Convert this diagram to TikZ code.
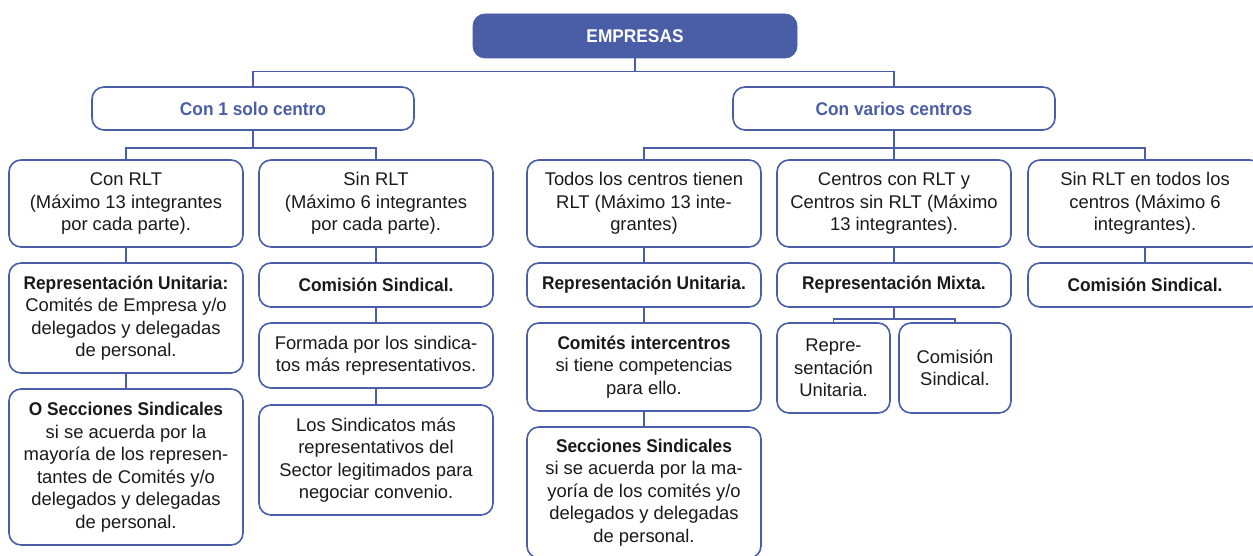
\documentclass[tikz,border=0pt]{standalone}
\usepackage{fontspec}
\setsansfont[BoldFeatures={FakeStretch=0.94}]{Liberation Sans}
\usepackage{tikz}
\usetikzlibrary{positioning}
\definecolor{azul}{RGB}{74,94,168}
\definecolor{texto}{RGB}{26,26,26}

\begin{document}
\begin{tikzpicture}
		[x=0.5pt, y=-0.5pt, inner sep=0pt,
		font=\sffamily\fontsize{9.2}{11.25}\selectfont,
		company/.style	= {rectangle,rounded corners=6pt,fill=azul,draw=azul,text=white,font=\sffamily\bfseries\fontsize{9.2}{11.25}\selectfont,minimum width=162pt,minimum height=22pt},
		branch/.style	= {rectangle,rounded corners=6pt,draw=azul,line width=0.8pt,text=azul,font=\sffamily\bfseries\fontsize{9.2}{11.25}\selectfont,minimum width=161pt,minimum height=21.5pt},
		info/.style		= {rectangle,rounded corners=6pt,draw=azul,line width=0.8pt,fill=white,text=texto,align=center,minimum width=117pt},
		paths/.style	= {draw=azul, line width=0.8pt}]
		
		\useasboundingbox (0,0) rectangle (1253,556);
		
		\node at (635, 36)		[company]	(emp)		{EMPRESAS};
		
		\node at (253, 108.5)	[branch]	(uno)		{Con 1 solo centro};
		\node at (894, 108.5)	[branch]	(varios)	{Con varios centros};
		
		\node at (126, 203.5)	[info, minimum height=43.5pt]	(conrlt)	{Con RLT\\(Máximo 13 integrantes\\por cada parte).};
		\node at (376, 203.5)	[info, minimum height=43.5pt]	(sinrlt)	{Sin RLT\\(Máximo 6 integrantes\\por cada parte).};
		\node at (644, 203.5)	[info, minimum height=43.5pt]	(todos)		{Todos los centros tienen\\RLT (Máximo 13 inte-\\grantes)};
		\node at (894, 203.5)	[info, minimum height=43.5pt]	(mixtos)	{Centros con RLT y\\Centros sin RLT (Máximo\\13 integrantes).};
		\node at (1145, 203.5)	[info, minimum height=43.5pt]	(sinall)	{Sin RLT en todos los\\centros (Máximo 6\\integrantes).};
		
		\node at (126, 318)		[info, minimum height=55pt]		(runit1)	{\textbf{Representación Unitaria:}\\Comités de Empresa y/o\\delegados y delegadas\\de personal.};
		\node at (126, 467)		[info, minimum height=78pt]		(secc1)		{\textbf{O Secciones Sindicales}\\si se acuerda por la\\mayoría de los represen-\\tantes de Comités y/o\\delegados y delegadas\\de personal.};
		
		\node at (376, 285)		[info, minimum height=22pt]		(comis1)	{\textbf{Comisión Sindical.}};
		\node at (376, 355.5)	[info, minimum height=32.5pt]	(formada)	{Formada por los sindica-\\tos más representativos.};
		\node at (376, 460)		[info, minimum height=55pt]		(sindic)	{Los Sindicatos más\\representativos del\\Sector legitimados para\\negociar convenio.};
		
		\node at (644, 285)		[info, minimum height=22pt]		(runit2)	{\textbf{Representación Unitaria.}};
		\node at (644, 367)		[info, minimum height=44pt]		(interc)	{\textbf{Comités intercentros}\\si tiene competencias\\para ello.};
		\node at (644, 492.5)	[info, minimum height=65.5pt]	(secc2)		{\textbf{Secciones Sindicales}\\si se acuerda por la ma-\\yoría de los comités y/o\\delegados y delegadas\\de personal.};
		
		\node at (894, 285)		[info, minimum height=22pt]		(mixta)		{\textbf{Representación Mixta.}};
		\node at (833.5, 368)	[info, minimum width=56.5pt, minimum height=45pt]	(runit3)	{Repre-\\sentación\\Unitaria.};
		\node at (955, 368)		[info, minimum width=56pt, minimum height=45pt]		(comis3)	{Comisión\\Sindical.};
		
		\node at (1145, 285)	[info, minimum height=22pt]		(comis4)	{\textbf{Comisión Sindical.}};
		
		\draw [paths] (emp.south) -- ++(0,13) -| (uno.north);
		\draw [paths] (emp.south) -- ++(0,13) -| (varios.north);
		
		\draw [paths] (uno.south) -- ++(0,17) -| (conrlt.north);
		\draw [paths] (uno.south) -- ++(0,17) -| (sinrlt.north);
		
		\draw [paths] (varios.south) -- ++(0,17) -| (todos.north);
		\draw [paths] (varios.south) -- ++(0,17) -| (mixtos.north);
		\draw [paths] (varios.south) -- ++(0,17) -| (sinall.north);
		
		\draw [paths] (conrlt) -- (runit1);
		\draw [paths] (runit1) -- (secc1);
		
		\draw [paths] (sinrlt) -- (comis1);
		\draw [paths] (comis1) -- (formada);
		\draw [paths] (formada) -- (sindic);
		
		\draw [paths] (todos) -- (runit2);
		\draw [paths] (runit2) -- (interc);
		\draw [paths] (interc) -- (secc2);
		
		\draw [paths] (mixtos) -- (mixta);
		\draw [paths] (mixta.south) -- ++(0,11) -| (runit3.north);
		\draw [paths] (mixta.south) -- ++(0,11) -| (comis3.north);
		
		\draw [paths] (sinall) -- (comis4);
		
		\end{tikzpicture}
\end{document}
